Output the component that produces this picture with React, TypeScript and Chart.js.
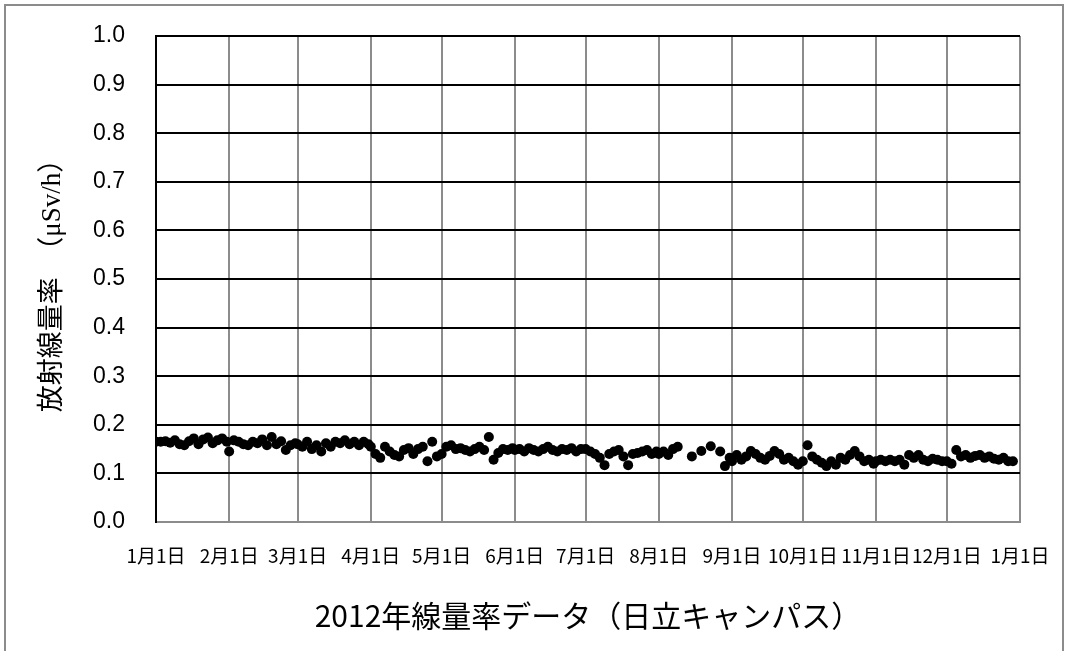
import React, { useEffect, useRef } from "react";
import { Chart, registerables } from "chart.js";

Chart.register(...registerables);

// Day-of-year (2012, leap year) where each month starts; last = Jan 1 2013
const monthStarts = [0, 31, 60, 91, 121, 152, 182, 213, 244, 274, 305, 335, 366];
const monthLabels = [
  "1月1日", "2月1日", "3月1日", "4月1日", "5月1日", "6月1日", "7月1日",
  "8月1日", "9月1日", "10月1日", "11月1日", "12月1日", "1月1日",
];
const yTicks = [0, 0.1, 0.2, 0.3, 0.4, 0.5, 0.6, 0.7, 0.8, 0.9, 1.0];

// Dose-rate readings (μSv/h), one value every 2 days from the 1st of each month
const jan = [0.165, 0.165, 0.166, 0.163, 0.168, 0.16, 0.158, 0.166, 0.172, 0.16, 0.17, 0.174, 0.162, 0.168, 0.172, 0.165];
const feb = [0.145, 0.168, 0.165, 0.16, 0.158, 0.165, 0.162, 0.17, 0.158, 0.175, 0.16, 0.166, 0.148, 0.158, 0.162];
const mar = [0.16, 0.155, 0.165, 0.15, 0.158, 0.145, 0.162, 0.155, 0.165, 0.162, 0.168, 0.16, 0.165, 0.158, 0.165, 0.16];
const apr = [0.155, 0.14, 0.132, 0.155, 0.145, 0.138, 0.135, 0.148, 0.152, 0.14, 0.15, 0.155, 0.125, 0.165, 0.135];
const may = [0.14, 0.155, 0.158, 0.15, 0.152, 0.148, 0.145, 0.15, 0.155, 0.148, 0.175, 0.128, 0.142, 0.15, 0.148, 0.152];
const jun = [0.148, 0.15, 0.145, 0.152, 0.148, 0.145, 0.15, 0.155, 0.148, 0.145, 0.15, 0.148, 0.152, 0.145, 0.15];
const jul = [0.15, 0.145, 0.14, 0.132, 0.117, 0.14, 0.145, 0.148, 0.135, 0.117, 0.14, 0.142, 0.145, 0.148, 0.14, 0.145];
const aug = [0.14, 0.145, 0.138, 0.15, 0.155, null, null, 0.135, null, 0.146, null, 0.156, null, 0.145, 0.115, 0.132];
const sep = [0.125, 0.138, 0.128, 0.135, 0.146, 0.14, 0.132, 0.128, 0.136, 0.146, 0.14, 0.128, 0.132, 0.125, 0.118];
const oct = [0.125, 0.158, 0.135, 0.128, 0.122, 0.115, 0.125, 0.118, 0.132, 0.128, 0.138, 0.146, 0.135, 0.125, 0.128, 0.12];
const nov = [0.125, 0.128, 0.125, 0.128, 0.125, 0.128, 0.118, 0.138, 0.132, 0.138, 0.128, 0.125, 0.13, 0.128, 0.125];
const dec = [0.125, 0.12, 0.148, 0.135, 0.138, 0.132, 0.136, 0.138, 0.132, 0.135, 0.13, 0.128, 0.132, 0.125, 0.125, null];

const xTitle = "2012年線量率データ（日立キャンパス）";
const yTitle = "放射線量率　（μSv/h）";

const GRAY = "#8c8c8c";

export default function App() {
  const ref = useRef<HTMLCanvasElement>(null);

  useEffect(() => {
    document.body.style.margin = "0";
    const months = [jan, feb, mar, apr, may, jun, jul, aug, sep, oct, nov, dec];
    const points: { x: number; y: number }[] = [];
    months.forEach((vals, m) => {
      vals.forEach((v, i) => {
        if (v !== null) points.push({ x: monthStarts[m] + 2 * i, y: v as number });
      });
    });

    const chart = new Chart(ref.current as HTMLCanvasElement, {
      type: "scatter",
      data: {
        datasets: [
          {
            data: points,
            backgroundColor: "#000",
            borderColor: "#000",
            borderWidth: 0,
            pointRadius: 5,
            showLine: false,
          },
        ],
      },
      options: {
        animation: false,
        responsive: false,
        layout: { padding: { left: 0, right: 48, top: 36, bottom: 0 } },
        plugins: { legend: { display: false }, tooltip: { enabled: false } },
        scales: {
          x: {
            type: "linear",
            min: 0,
            max: 366,
            afterBuildTicks: (s: any) => {
              s.ticks = monthStarts.map((v) => ({ value: v }));
            },
            afterFit: (s: any) => {
              s.height = 129;
              s.paddingLeft = 0;
              s.paddingRight = 0;
            },
            ticks: {
              autoSkip: false,
              maxRotation: 0,
              minRotation: 0,
              padding: 22,
              color: "#000",
              font: { family: "'Noto Sans CJK JP'", size: 19 },
              callback: (_v: any, i: number) => monthLabels[i],
            },
            grid: {
              color: (ctx: any) => (ctx.index === 0 ? "#000" : GRAY),
              lineWidth: 2,
              drawTicks: false,
            },
            border: { display: true, color: GRAY, width: 2 },
            title: {
              display: true,
              text: xTitle,
              color: "#000",
              font: { family: "'Noto Sans CJK JP'", size: 30 },
              padding: { top: 0, bottom: 17 },
            },
          },
          y: {
            type: "linear",
            min: 0,
            max: 1,
            afterBuildTicks: (s: any) => {
              s.ticks = yTicks.map((v) => ({ value: v }));
            },
            afterFit: (s: any) => {
              s.width = 156;
              s.paddingTop = 0;
              s.paddingBottom = 0;
            },
            ticks: {
              padding: 31,
              color: "#000",
              font: { family: "'Liberation Sans', Arial", size: 23 },
              callback: (v: any) => Number(v).toFixed(1),
            },
            grid: {
              color: (ctx: any) => (ctx.tick && ctx.tick.value === 0 ? GRAY : "#000"),
              lineWidth: 2,
              drawTicks: false,
            },
            border: { display: true, color: "#000", width: 2 },
            title: {
              display: true,
              text: yTitle,
              color: "#000",
              font: { family: "'Liberation Serif', 'Noto Sans CJK JP'", size: 27 },
              padding: { top: 37, bottom: 0 },
            },
          },
        },
      },
    } as any);

    return () => chart.destroy();
  }, []);

  return (
    <div style={{ position: "relative", width: 1068, height: 651, overflow: "hidden", background: "#fff" }}>
      <canvas ref={ref} width={1068} height={651} style={{ position: "absolute", left: 0, top: 0 }} />
      <div
        style={{
          position: "absolute",
          left: 4,
          top: 4,
          width: 1056,
          height: 700,
          border: `2px solid ${GRAY}`,
          pointerEvents: "none",
        }}
      />
    </div>
  );
}
